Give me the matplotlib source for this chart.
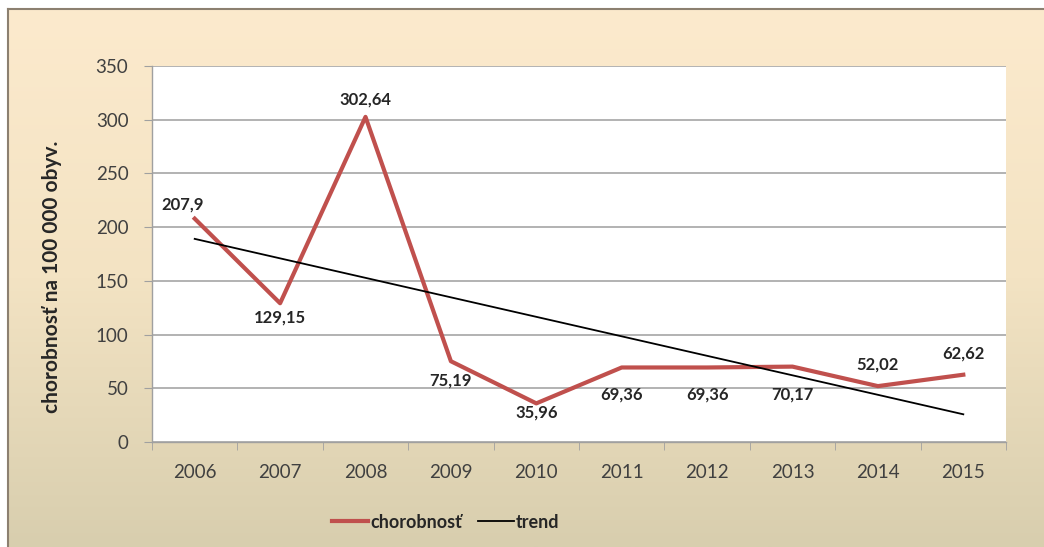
import numpy as np
import matplotlib
matplotlib.use("Agg")
import matplotlib.pyplot as plt
from matplotlib.colors import LinearSegmentedColormap

# data
roky = ['2006', '2007', '2008', '2009', '2010', '2011', '2012', '2013', '2014', '2015']
chorobnost = [207.9, 129.15, 302.64, 75.19, 35.96, 69.36, 69.36, 70.17, 52.02, 62.62]
popisky = ['207,9', '129,15', '302,64', '75,19', '35,96', '69,36', '69,36', '70,17', '52,02', '62,62']

# posun popiskov (px)
posuny = [(-12, 14), (0, -14), (0, 17), (0, -19), (0, -9), (0, -27), (0, -27), (0, -28), (0, 22), (0, 21)]

plt.rcParams['font.family'] = ['Lato', 'DejaVu Sans']

fig = plt.figure(figsize=(10.44, 5.47), dpi=100)
fig.patch.set_facecolor('white')

# pozadie s prechodom
bg = fig.add_axes([8 / 1044, 0, 1 - 8 / 1044, 1 - 9 / 547], zorder=-10)
cmap = LinearSegmentedColormap.from_list('bg', ['#FCEACD', '#F3E3C3', '#D8CEAE'])
grad = np.linspace(0, 1, 256).reshape(-1, 1)
bg.imshow(grad, aspect='auto', cmap=cmap, extent=[0, 1, 0, 1], origin='upper')
bg.set_xticks([])
bg.set_yticks([])
for s in ['right', 'bottom']:
    bg.spines[s].set_visible(False)
for s in ['top', 'left']:
    bg.spines[s].set_color('#8C8070')
    bg.spines[s].set_linewidth(1.5)

ax = fig.add_axes([152 / 1044, 1 - 442 / 547, (1006 - 152) / 1044, (442 - 66) / 547])
ax.set_facecolor('white')

x = np.arange(len(roky))
ax.plot(x, chorobnost, color='#C0504D', linewidth=3, label='chorobnosť', zorder=3,
        solid_joinstyle='round')

# lineárny trend
k, q = np.polyfit(x, chorobnost, 1)
ax.plot(x, k * x + q, color='black', linewidth=1.3, label='trend', zorder=4)

for xi, yi, txt, (dx, dy) in zip(x, chorobnost, popisky, posuny):
    ax.annotate(txt, (xi, yi), xytext=(dx, dy), textcoords='offset pixels',
                ha='center', va='center', fontsize=12, fontweight='bold', color='#262626',
                zorder=5)

ax.set_xlim(-0.5, len(roky) - 0.5)
ax.set_ylim(0, 350)
ax.set_yticks(np.arange(0, 351, 50))
ax.set_xticks(x)
ax.set_xticklabels(roky)
ax.set_xticks(np.arange(-0.5, len(roky), 1), minor=True)
ax.tick_params(axis='x', which='major', length=0, pad=16, labelsize=13.5, labelcolor='#404040')
ax.tick_params(axis='x', which='minor', length=6, color='#A0A0A0')
ax.tick_params(axis='y', length=6, color='#A0A0A0', pad=11, labelsize=13.5, labelcolor='#404040')

ax.grid(True, axis='y', color='#A6A6A6', linewidth=1.2, zorder=0)
ax.set_axisbelow(True)
for s in ['top', 'right']:
    ax.spines[s].set_visible(False)
for s in ['left', 'bottom']:
    ax.spines[s].set_color('#A0A0A0')
    ax.spines[s].set_linewidth(1)

fig.text(52 / 1044, 1 - 277 / 547, 'chorobnosť na 100 000 obyv.', rotation=90,
         ha='center', va='center', fontsize=15, fontweight='bold', color='#262626')

leg = fig.legend(loc='center', bbox_to_anchor=(446 / 1044, 1 - 522 / 547), ncol=2,
                 frameon=False, handlelength=2.0, columnspacing=0.9, handletextpad=0.1,
                 prop={'weight': 'bold', 'size': 13})
for t in leg.get_texts():
    t.set_color('#262626')

fig.savefig('out.png', dpi=100, facecolor=fig.get_facecolor())
